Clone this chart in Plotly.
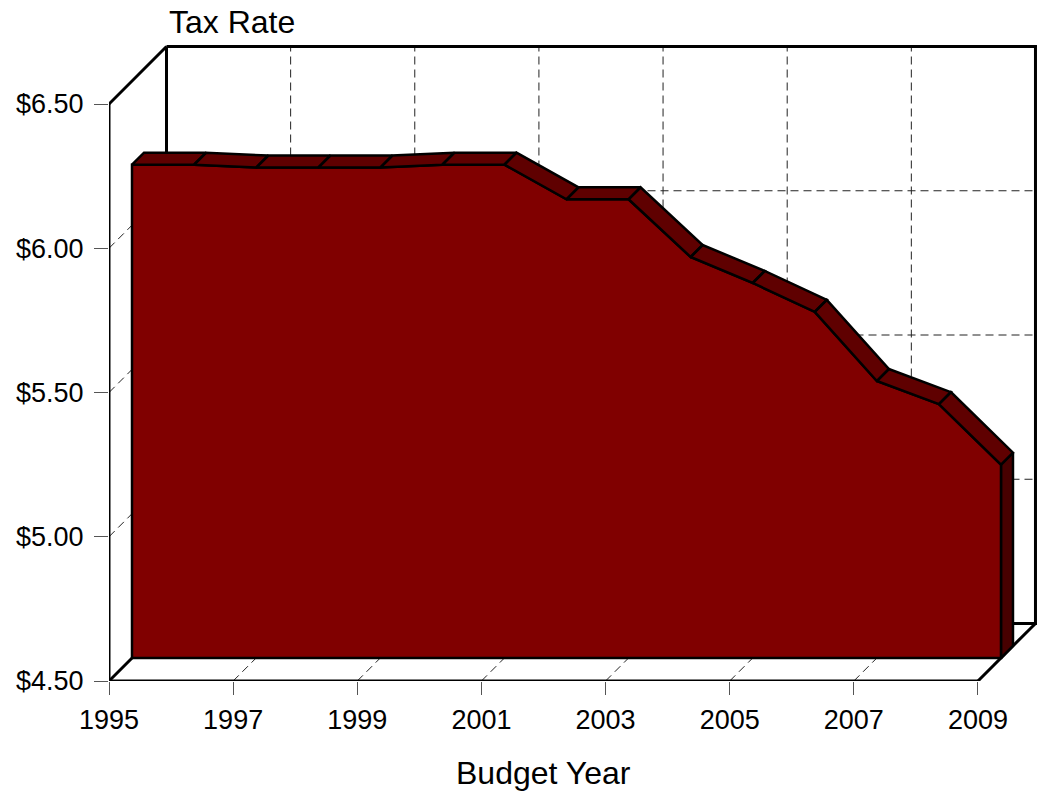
import plotly.graph_objects as go

# ---------------- data ----------------
years = list(range(1995, 2010))
rates = [6.21, 6.21, 6.20, 6.20, 6.20, 6.21, 6.21, 6.09, 6.09, 5.89, 5.80, 5.70, 5.46, 5.38, 5.17]
y_ticks = [4.50, 5.00, 5.50, 6.00, 6.50]
y_tick_labels = ["$4.50", "$5.00", "$5.50", "$6.00", "$6.50"]
x_ticks = [1995, 1997, 1999, 2001, 2003, 2005, 2007, 2009]
x_tick_labels = ["1995", "1997", "1999", "2001", "2003", "2005", "2007", "2009"]
grid_years = [1997, 1999, 2001, 2003, 2005, 2007]
grid_rates = [5.00, 5.50, 6.00]

# ---------------- layout geometry (pixels) ----------------
W, H = 1042, 791
PX_YEAR = 62.07      # px per year
PX_DOLLAR = 288.5    # px per dollar
LEFT, RIGHT, TOP, BOTTOM = 109, 1040, 42, 681
DEPTH_BACK = 57.5    # back wall depth (px)
DEPTH_FACE = 23      # area front face depth
DEPTH_RIB = 35       # area back (ribbon) depth

X0, X1 = years[0], years[-1]
Y0, Y1 = y_ticks[0], y_ticks[-1]
x_range = [X0, X0 + (RIGHT - LEFT) / PX_YEAR]
y_range = [Y0, Y0 + (BOTTOM - TOP) / PX_DOLLAR]


def dx(d):
    return d / PX_YEAR


def dy(d):
    return d / PX_DOLLAR


DASH = "8px,5px"
GRID_COL = "#222222"
fig = go.Figure()


def add_line(xs, ys, color="black", width=3, dash=None):
    fig.add_trace(go.Scatter(x=xs, y=ys, mode="lines",
                             line=dict(color=color, width=width, dash=dash),
                             hoverinfo="skip", showlegend=False))


def add_poly(xs, ys, fill, width=2.5):
    fig.add_trace(go.Scatter(x=xs, y=ys, mode="lines", fill="toself",
                             fillcolor=fill,
                             line=dict(color="black", width=width),
                             hoverinfo="skip", showlegend=False))


# back wall dashed grid
xs, ys = [], []
for yr in grid_years:
    xs += [yr + dx(DEPTH_BACK), yr + dx(DEPTH_BACK), None]
    ys += [Y0 + dy(DEPTH_BACK), Y1 + dy(DEPTH_BACK), None]
for r in grid_rates:
    xs += [X0 + dx(DEPTH_BACK), X1 + dx(DEPTH_BACK), None]
    ys += [r + dy(DEPTH_BACK), r + dy(DEPTH_BACK), None]
# left wall diagonals
for r in grid_rates:
    xs += [X0, X0 + dx(DEPTH_BACK), None]
    ys += [r, r + dy(DEPTH_BACK), None]
# floor diagonals
for yr in grid_years:
    xs += [yr, yr + dx(DEPTH_BACK), None]
    ys += [Y0, Y0 + dy(DEPTH_BACK), None]
add_line(xs, ys, color=GRID_COL, width=1, dash=DASH)

# back wall solid frame
add_line([X0 + dx(DEPTH_BACK), X1 + dx(DEPTH_BACK), X1 + dx(DEPTH_BACK), X0 + dx(DEPTH_BACK), X0 + dx(DEPTH_BACK)],
         [Y1 + dy(DEPTH_BACK), Y1 + dy(DEPTH_BACK), Y0 + dy(DEPTH_BACK), Y0 + dy(DEPTH_BACK), Y1 + dy(DEPTH_BACK)])
# connecting diagonals
add_line([X0, X0 + dx(DEPTH_BACK), None, X0, X0 + dx(DEPTH_BACK), None, X1, X1 + dx(DEPTH_BACK)],
         [Y1, Y1 + dy(DEPTH_BACK), None, Y0, Y0 + dy(DEPTH_BACK), None, Y0, Y0 + dy(DEPTH_BACK)])

# ---------------- 3D area ----------------
# right side face
add_poly([X1 + dx(DEPTH_FACE), X1 + dx(DEPTH_FACE), X1 + dx(DEPTH_RIB), X1 + dx(DEPTH_RIB), X1 + dx(DEPTH_FACE)],
         [Y0 + dy(DEPTH_FACE), rates[-1] + dy(DEPTH_FACE), rates[-1] + dy(DEPTH_RIB), Y0 + dy(DEPTH_RIB), Y0 + dy(DEPTH_FACE)],
         "#470000")
# front face
fx = [y + dx(DEPTH_FACE) for y in years]
fy = [r + dy(DEPTH_FACE) for r in rates]
add_poly([fx[0]] + fx + [fx[-1], fx[0]],
         [Y0 + dy(DEPTH_FACE)] + fy + [Y0 + dy(DEPTH_FACE), Y0 + dy(DEPTH_FACE)],
         "#800000")
# top ribbon
rx, ry = [], []
for i in range(len(years) - 1):
    a, b = years[i], years[i + 1]
    va, vb = rates[i], rates[i + 1]
    rx += [a + dx(DEPTH_FACE), b + dx(DEPTH_FACE), b + dx(DEPTH_RIB), a + dx(DEPTH_RIB), a + dx(DEPTH_FACE), None]
    ry += [va + dy(DEPTH_FACE), vb + dy(DEPTH_FACE), vb + dy(DEPTH_RIB), va + dy(DEPTH_RIB), va + dy(DEPTH_FACE), None]
add_poly(rx, ry, "#5f0000")

# front axes lines
add_line([X0, X0, X1], [Y1, Y0, Y0])

FONT = "Arial, Liberation Sans, sans-serif"
fig.update_layout(
    width=W, height=H,
    margin=dict(l=LEFT, r=W - RIGHT, t=TOP, b=H - BOTTOM, pad=0),
    paper_bgcolor="white", plot_bgcolor="white",
    showlegend=False,
    font=dict(family=FONT, color="black", size=27),
    xaxis=dict(range=x_range, showgrid=False, zeroline=False, showline=False,
               tickmode="array", tickvals=x_ticks, ticktext=x_tick_labels,
               ticks="outside", ticklen=13, tickwidth=1, tickcolor="#555555",
               ticklabelstandoff=2, tickfont=dict(size=27, family=FONT)),
    yaxis=dict(range=y_range, showgrid=False, zeroline=False, showline=False,
               tickmode="array", tickvals=y_ticks, ticktext=y_tick_labels,
               ticks="outside", ticklen=14, tickwidth=1, tickcolor="#555555",
               ticklabelstandoff=5, tickfont=dict(size=27, family=FONT)),
    annotations=[
        dict(text="Tax Rate", xref="x", yref="paper",
             x=X0 + dx(DEPTH_BACK), y=(BOTTOM - 22) / (BOTTOM - TOP),
             xanchor="left", yanchor="middle", showarrow=False,
             font=dict(size=32, family=FONT)),
        dict(text="Budget Year", xref="x", yref="paper",
             x=(X0 + X1) / 2, y=(BOTTOM - 773) / (BOTTOM - TOP),
             xanchor="center", yanchor="middle", showarrow=False,
             font=dict(size=32, family=FONT)),
    ],
)

fig.write_html("out.html")
